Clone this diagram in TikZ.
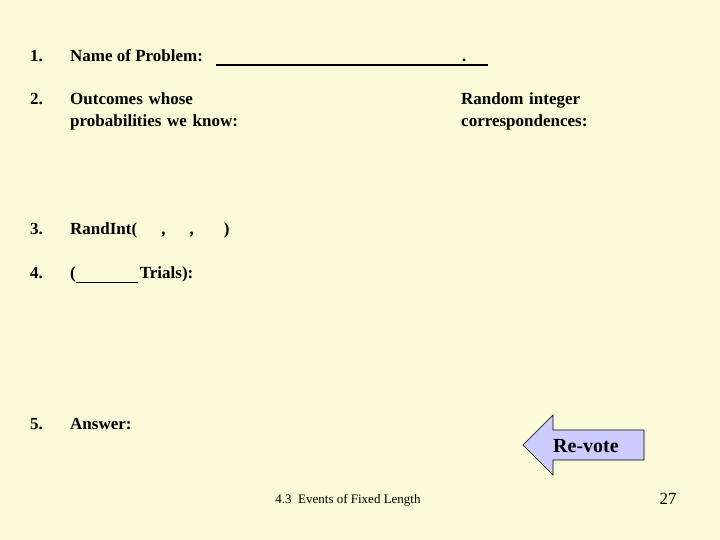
\documentclass[tikz,border=0pt]{standalone}
\usepackage{fontspec}
\setmainfont{Liberation Serif}
\begin{document}
\begin{tikzpicture}[x=1pt,y=-1pt,
  lbl/.style={anchor=base west,inner sep=0pt,font=\fontsize{17}{22}\selectfont\bfseries,align=left},
  small/.style={anchor=base,inner sep=0pt,font=\fontsize{13}{15}\selectfont}]
\fill[fill={rgb,255:red,250;green,250;blue,216}] (0,0) rectangle (720,540);
\useasboundingbox (0,0) rectangle (720,540);
\node[lbl] (n1) at (30,62) {1.};
\node[lbl] (t1) at (70,62) {Name of Problem:};
\draw[line width=1.2pt] (216,65) -- (488,65);
\node[lbl] (dot) at (462,62) {.};
\node[lbl] (n2) at (30,105) {2.};
\node[lbl,text width=220pt] (t2) at (70,105) {Outcomes whose\\probabilities we know:};
\node[lbl,text width=220pt] (t2b) at (461,105) {Random integer\\correspondences:};
\node[lbl] (n3) at (30,235) {3.};
\node[lbl] (t3) at (70,235) {RandInt(\hspace{24pt},\hspace{24pt},\hspace{30pt})};
\node[lbl] (n4) at (30,278) {4.};
\node[lbl] (t4) at (70,278) {(\hspace{64pt}Trials):};
\draw[line width=1pt] (76,282) -- (138,282);
\node[lbl] (n5) at (30,429) {5.};
\node[lbl] (t5) at (70,429) {Answer:};
\draw[fill={rgb,255:red,204;green,204;blue,255},draw=black,line width=0.6pt]
  (523,445) -- (553,415) -- (553,430) -- (644,430) -- (644,460) -- (553,460) -- (553,475) -- cycle;
\node[lbl,font=\fontsize{20}{22}\selectfont\bfseries] (rv) at (553,452) {Re-vote};
\node[small] (foot) at (348,503) {4.3\ \ Events of Fixed Length};
\node[small,font=\fontsize{17}{18}\selectfont] (pg) at (668,504) {27};
\end{tikzpicture}
\end{document}
